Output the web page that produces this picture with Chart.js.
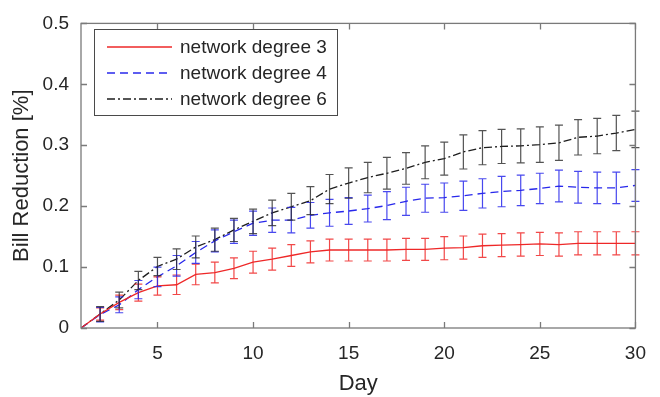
<!DOCTYPE html>
<html>
<head>
<meta charset="utf-8">
<script src="https://cdn.jsdelivr.net/npm/chart.js@4"></script>
<style>
  html, body { margin: 0; padding: 0; background: #fff; }
</style>
</head>
<body>
<canvas id="chart" width="660" height="397"></canvas>
<script>
// data
const days = [1,2,3,4,5,6,7,8,9,10,11,12,13,14,15,16,17,18,19,20,21,22,23,24,25,26,27,28,29,30];
const deg3 = [0, 0.023, 0.042, 0.058, 0.069, 0.071, 0.088, 0.091, 0.098, 0.108, 0.113, 0.119, 0.125, 0.128, 0.128, 0.128, 0.128, 0.129, 0.129, 0.131, 0.132, 0.135, 0.136, 0.137, 0.138, 0.137, 0.139, 0.139, 0.139, 0.139];
const deg4 = [0, 0.022, 0.038, 0.063, 0.084, 0.102, 0.124, 0.143, 0.158, 0.172, 0.177, 0.177, 0.185, 0.189, 0.192, 0.196, 0.201, 0.208, 0.213, 0.214, 0.217, 0.221, 0.224, 0.226, 0.229, 0.233, 0.231, 0.230, 0.230, 0.234];
const deg6 = [0, 0.023, 0.046, 0.078, 0.101, 0.113, 0.133, 0.145, 0.161, 0.175, 0.189, 0.199, 0.209, 0.228, 0.238, 0.247, 0.254, 0.262, 0.272, 0.278, 0.289, 0.296, 0.298, 0.299, 0.301, 0.304, 0.313, 0.315, 0.320, 0.326];
const err3 = [0, 0.010, 0.012, 0.014, 0.015, 0.016, 0.017, 0.017, 0.017, 0.018, 0.018, 0.018, 0.018, 0.018, 0.018, 0.018, 0.018, 0.018, 0.018, 0.019, 0.019, 0.019, 0.019, 0.019, 0.019, 0.019, 0.019, 0.019, 0.019, 0.019];
const err4 = [0, 0.012, 0.013, 0.015, 0.016, 0.017, 0.018, 0.018, 0.019, 0.020, 0.020, 0.021, 0.021, 0.022, 0.022, 0.022, 0.023, 0.023, 0.023, 0.024, 0.024, 0.024, 0.025, 0.025, 0.025, 0.026, 0.026, 0.026, 0.026, 0.026];
const err6 = [0, 0.012, 0.013, 0.015, 0.015, 0.017, 0.018, 0.019, 0.019, 0.020, 0.021, 0.022, 0.023, 0.024, 0.025, 0.025, 0.026, 0.026, 0.027, 0.027, 0.028, 0.028, 0.028, 0.028, 0.029, 0.029, 0.029, 0.029, 0.029, 0.030];
const xTicks = [5, 10, 15, 20, 25, 30];
const yTicks = [0, 0.1, 0.2, 0.3, 0.4, 0.5];

const FONT = '"Liberation Sans", Arial, sans-serif';
const TXT = '#262626';

function pts(vals) {
  return days.map((d, i) => ({ x: d, y: vals[i] }));
}

// error bars, box, inner ticks and legend drawn with the chart's scales
const matlabLook = {
  id: 'matlabLook',
  afterDatasetsDraw(chart) {
    const ctx = chart.ctx;
    const xs = chart.scales.x, ys = chart.scales.y;
    const errs = [err3, err4, err6];
    chart.data.datasets.forEach((ds, k) => {
      ctx.save();
      ctx.strokeStyle = ds.errColor;
      ctx.lineWidth = 1.2;
      ds.data.forEach((p, i) => {
        const e = errs[k][i];
        if (!e) return;
        const px = xs.getPixelForValue(p.x);
        const top = ys.getPixelForValue(p.y + e);
        const bot = ys.getPixelForValue(p.y - e);
        ctx.beginPath();
        ctx.moveTo(px, top); ctx.lineTo(px, bot);
        ctx.moveTo(px - 4, top); ctx.lineTo(px + 4, top);
        ctx.moveTo(px - 4, bot); ctx.lineTo(px + 4, bot);
        ctx.stroke();
      });
      ctx.restore();
    });
  },
  afterDraw(chart) {
    const ctx = chart.ctx;
    const a = chart.chartArea;
    const xs = chart.scales.x, ys = chart.scales.y;
    ctx.save();
    ctx.strokeStyle = '#7a7a7a';
    ctx.lineWidth = 1.3;
    ctx.strokeRect(a.left, a.top, a.right - a.left, a.bottom - a.top);
    ctx.beginPath();
    xTicks.forEach(v => {
      const px = Math.round(xs.getPixelForValue(v)) + 0.5;
      ctx.moveTo(px, a.bottom); ctx.lineTo(px, a.bottom - 6);
      ctx.moveTo(px, a.top); ctx.lineTo(px, a.top + 6);
    });
    yTicks.forEach(v => {
      const py = Math.round(ys.getPixelForValue(v)) + 0.5;
      ctx.moveTo(a.left, py); ctx.lineTo(a.left + 6, py);
      ctx.moveTo(a.right, py); ctx.lineTo(a.right - 6, py);
    });
    ctx.stroke();

    // legend box
    const lx = 94, ly = 29, lw = 243, lh = 86;
    ctx.fillStyle = '#fff';
    ctx.fillRect(lx, ly, lw, lh);
    ctx.strokeStyle = '#4a4a4a';
    ctx.lineWidth = 1;
    ctx.strokeRect(lx + 0.5, ly + 0.5, lw, lh);
    ctx.font = '19px ' + FONT;
    ctx.textBaseline = 'middle';
    chart.data.datasets.forEach((ds, k) => {
      const ry = ly + 18 + k * 26;
      ctx.strokeStyle = ds.borderColor;
      ctx.lineWidth = 1.3;
      ctx.setLineDash(ds.borderDash || []);
      ctx.beginPath();
      ctx.moveTo(107, ry); ctx.lineTo(172, ry);
      ctx.stroke();
      ctx.setLineDash([]);
      ctx.fillStyle = TXT;
      ctx.fillText(ds.label, 180, ry + 1);
    });
    ctx.restore();
  }
};

new Chart(document.getElementById('chart'), {
  type: 'line',
  data: {
    datasets: [
      {
        label: 'network degree 3',
        data: pts(deg3),
        borderColor: 'rgb(238,40,40)',
        errColor: 'rgba(238,40,40,0.85)',
        borderWidth: 1.3,
        pointRadius: 0,
        tension: 0
      },
      {
        label: 'network degree 4',
        data: pts(deg4),
        borderColor: 'rgb(40,40,235)',
        errColor: 'rgba(40,40,235,0.85)',
        borderWidth: 1.3,
        borderDash: [8, 5],
        pointRadius: 0,
        tension: 0
      },
      {
        label: 'network degree 6',
        data: pts(deg6),
        borderColor: 'rgb(30,30,30)',
        errColor: 'rgba(40,40,40,0.8)',
        borderWidth: 1.3,
        borderDash: [8, 3, 2, 3],
        pointRadius: 0,
        tension: 0
      }
    ]
  },
  options: {
    responsive: false,
    animation: false,
    layout: { padding: { top: 14, right: 23, left: 0, bottom: 0 } },
    plugins: {
      legend: { display: false },
      tooltip: { enabled: false }
    },
    scales: {
      x: {
        type: 'linear',
        min: 1,
        max: 30,
        afterBuildTicks(scale) { scale.ticks = xTicks.map(v => ({ value: v })); },
        afterFit(scale) { scale.height = 69; },
        grid: { display: false, drawTicks: false },
        border: { display: false },
        ticks: { color: TXT, font: { family: FONT, size: 19 }, padding: 14, maxRotation: 0 },
        title: { display: true, text: 'Day', color: TXT, font: { family: FONT, size: 22 }, padding: { top: 0, bottom: 0 } }
      },
      y: {
        min: 0,
        max: 0.5,
        afterBuildTicks(scale) { scale.ticks = yTicks.map(v => ({ value: v })); },
        afterFit(scale) { scale.width = 81; },
        grid: { display: false, drawTicks: false },
        border: { display: false },
        ticks: { color: TXT, font: { family: FONT, size: 19 }, padding: 12, callback: v => String(+v.toFixed(1)) },
        title: { display: true, text: 'Bill Reduction [%]', color: TXT, font: { family: FONT, size: 22 }, padding: { top: 9, bottom: 0 } }
      }
    }
  },
  plugins: [matlabLook]
});
</script>
</body>
</html>
